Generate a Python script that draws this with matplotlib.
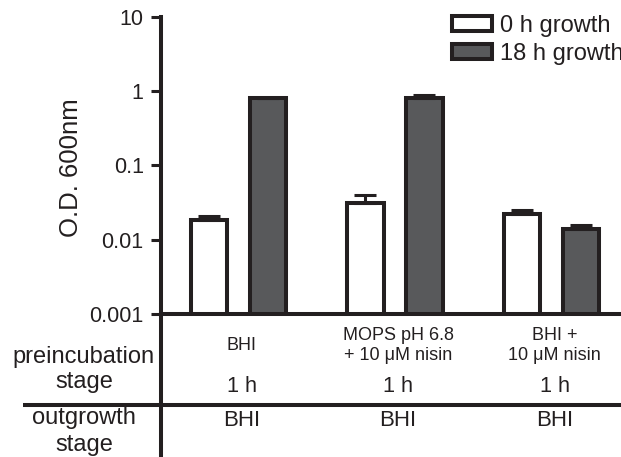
import matplotlib
matplotlib.use("Agg")
import matplotlib.pyplot as plt
import matplotlib.transforms as mtransforms
import numpy as np

plt.rcParams['font.family'] = ['Liberation Sans', 'DejaVu Sans']

# data (log scale)
series = ["0 h growth", "18 h growth"]
od_0h = [0.0184, 0.0315, 0.0222]
od_0h_err = [0.0024, 0.0085, 0.0029]
od_18h = [0.815, 0.815, 0.0141]
od_18h_err = [0.0, 0.072, 0.0015]
preinc_media = ["BHI", "MOPS pH 6.8\n+ 10 \u03bcM nisin", "BHI +\n10 \u03bcM nisin"]
preinc_time = ["1 h", "1 h", "1 h"]
outgrowth_media = ["BHI", "BHI", "BHI"]
yticks = [0.001, 0.01, 0.1, 1, 10]
ytick_labels = ["0.001", "0.01", "0.1", "1", "10"]

ink = '#231f20'
dark = '#58595b'
W, H = 621, 457

fig = plt.figure(figsize=(W / 100, H / 100), dpi=100)
ax = fig.add_axes([161 / W, 1 - 314 / H, (W - 161) / W, (314 - 16.7) / H])

x = np.arange(len(preinc_media))
w = 0.235
off = 0.1885
b0 = ax.bar(x - off, od_0h, w, color='white', edgecolor=ink, lw=2.9, zorder=2, label=series[0])
b1 = ax.bar(x + off, od_18h, w, color=dark, edgecolor=ink, lw=2.9, zorder=2, label=series[1])
ax.errorbar(x - off, od_0h, yerr=[np.zeros(3), od_0h_err], fmt='none', ecolor=ink,
            elinewidth=2.2, capsize=8, capthick=2.2, zorder=3)
ax.errorbar(x + off, od_18h, yerr=[np.zeros(3), od_18h_err], fmt='none', ecolor=ink,
            elinewidth=2.2, capsize=8, capthick=2.2, zorder=3)

ax.set_yscale('log')
ax.set_ylim(0.001, 10)
ax.set_xlim(-0.495, 2.444)
ax.set_yticks(yticks)
ax.set_yticklabels(ytick_labels)
ax.yaxis.set_minor_locator(matplotlib.ticker.NullLocator())
ax.set_xticks([])
ax.tick_params(axis='y', length=7, width=2.2, pad=5.5, labelsize=15.5, color=ink, labelcolor=ink)
for s in ['top', 'right']:
    ax.spines[s].set_visible(False)
for s in ['left', 'bottom']:
    ax.spines[s].set_linewidth(2.9)
    ax.spines[s].set_color(ink)

ax.set_ylabel("O.D. 600nm", fontsize=18.5, color=ink, va='center')
ax.yaxis.set_label_coords(-0.196, 0.494)

# axis line running down through the table, and the row separator
ax.plot([0, 0], [0, -0.6], transform=ax.transAxes, clip_on=False, color=ink, lw=2.9,
        solid_capstyle='butt')
sep = -(404.5 - 314) / (314 - 16.7)
ax.plot([(23 - 161) / (W - 161), 1.0], [sep, sep], transform=ax.transAxes, clip_on=False,
        color=ink, lw=2.9, solid_capstyle='butt')

def fy(py):
    return 1 - py / H

fig.text(84 / W, fy(357), "preincubation", ha='center', va='center', fontsize=17, color=ink)
fig.text(84 / W, fy(382), "stage", ha='center', va='center', fontsize=17, color=ink)
fig.text(84 / W, fy(418), "outgrowth", ha='center', va='center', fontsize=17, color=ink)
fig.text(84 / W, fy(445), "stage", ha='center', va='center', fontsize=17, color=ink)

trans = mtransforms.blended_transform_factory(ax.transData, fig.transFigure)
for i in range(len(preinc_media)):
    ax.text(x[i] + 0.02, fy(345.5), preinc_media[i], transform=trans, ha='center', va='center',
            fontsize=13, color=ink, linespacing=1.25)
    ax.text(x[i] + 0.02, fy(387), preinc_time[i], transform=trans, ha='center', va='center',
            fontsize=15.7, color=ink)
    ax.text(x[i] + 0.02, fy(421), outgrowth_media[i], transform=trans, ha='center', va='center',
            fontsize=16, color=ink)

ax.legend(handles=[b0, b1], loc='upper left', bbox_to_anchor=(452 / W, 1 - 15 / H),
          bbox_transform=fig.transFigure, frameon=False, fontsize=17, handlelength=1.7,
          handleheight=0.6, handletextpad=0.35, labelspacing=0.25, borderpad=0,
          borderaxespad=0, labelcolor=ink)

fig.savefig("out.png", dpi=100)
